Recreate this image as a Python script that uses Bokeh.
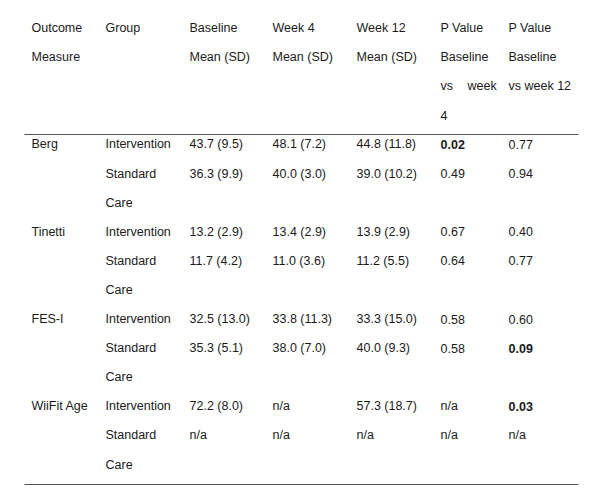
from bokeh.plotting import figure
from bokeh.models import ColumnDataSource, Range1d
from bokeh.core.properties import value
from bokeh.embed import file_html
from bokeh.resources import INLINE

# ---- data ----
headers = [
    ["Outcome", "Measure"],
    ["Group"],
    ["Baseline", "Mean (SD)"],
    ["Week 4", "Mean (SD)"],
    ["Week 12", "Mean (SD)"],
    ["P Value", "Baseline", "vs|week", "4"],
    ["P Value", "Baseline", "vs week 12"],
]
measures = ["Berg", "Tinetti", "FES-I", "WiiFit Age"]
groups = ["Intervention", "Standard Care"]
baseline = ["43.7 (9.5)", "36.3 (9.9)", "13.2 (2.9)", "11.7 (4.2)", "32.5 (13.0)", "35.3 (5.1)", "72.2 (8.0)", "n/a"]
week4 = ["48.1 (7.2)", "40.0 (3.0)", "13.4 (2.9)", "11.0 (3.6)", "33.8 (11.3)", "38.0 (7.0)", "n/a", "n/a"]
week12 = ["44.8 (11.8)", "39.0 (10.2)", "13.9 (2.9)", "11.2 (5.5)", "33.3 (15.0)", "40.0 (9.3)", "57.3 (18.7)", "n/a"]
p_week4 = ["0.02", "0.49", "0.67", "0.64", "0.58", "0.58", "n/a", "n/a"]
p_week12 = ["0.77", "0.94", "0.40", "0.77", "0.60", "0.09", "0.03", "n/a"]

# ---- layout ----
W, H = 592, 493
col_x = [31, 105, 189, 272, 356, 440, 508]
line0_y = 27.5
line_h = 29.1
rule_x0, rule_x1 = 24, 578
top_rule_y = 134
bottom_rule_y = 484
FONT = "Liberation Sans"
SIZE = "12.5px"
COLOR = "#1a1a1a"

def ly(i):
    return line0_y + i * line_h

xs, ys, txt, styles = [], [], [], []

def add(x, y, t, bold=False):
    xs.append(x); ys.append(y); txt.append(t); styles.append("bold" if bold else "normal")

for c, lines in enumerate(headers):
    for i, t in enumerate(lines):
        if "|" in t:
            a, b = t.split("|")
            add(col_x[c], ly(i), a)
            add(col_x[c] + 27, ly(i), b)
        else:
            add(col_x[c], ly(i), t)

def is_sig(p):
    try:
        return float(p) < 0.1
    except ValueError:
        return False

for m, name in enumerate(measures):
    base_line = 4 + 3 * m
    add(col_x[0], ly(base_line), name)
    for g, gname in enumerate(groups):
        r = 2 * m + g
        gl = base_line + g
        words = gname.split(" ")
        if g == 0:
            add(col_x[1], ly(gl), gname)
        else:
            for k, w in enumerate(words):
                add(col_x[1], ly(gl + k), w)
        add(col_x[2], ly(gl), baseline[r])
        add(col_x[3], ly(gl), week4[r])
        add(col_x[4], ly(gl), week12[r])
        add(col_x[5], ly(gl), p_week4[r], is_sig(p_week4[r]))
        add(col_x[6], ly(gl), p_week12[r], is_sig(p_week12[r]))

src = ColumnDataSource(dict(x=xs, y=ys, text=txt, style=styles))

p = figure(width=W, height=H, output_backend="svg", toolbar_location=None,
           x_range=Range1d(0, W), y_range=Range1d(H, 0),
           min_border=0, background_fill_color="white", border_fill_color="white")
p.axis.visible = False
p.grid.visible = False
p.outline_line_color = None

p.text(x="x", y="y", text="text", source=src, text_font=value(FONT),
       text_font_size=SIZE, text_font_style="style", text_color=COLOR,
       text_baseline="middle", text_align="left")

p.segment(x0=[rule_x0, rule_x0], x1=[rule_x1, rule_x1],
          y0=[top_rule_y, bottom_rule_y], y1=[top_rule_y, bottom_rule_y],
          line_color="#555555", line_width=1)

open("out.html", "w").write(file_html(p, INLINE))
